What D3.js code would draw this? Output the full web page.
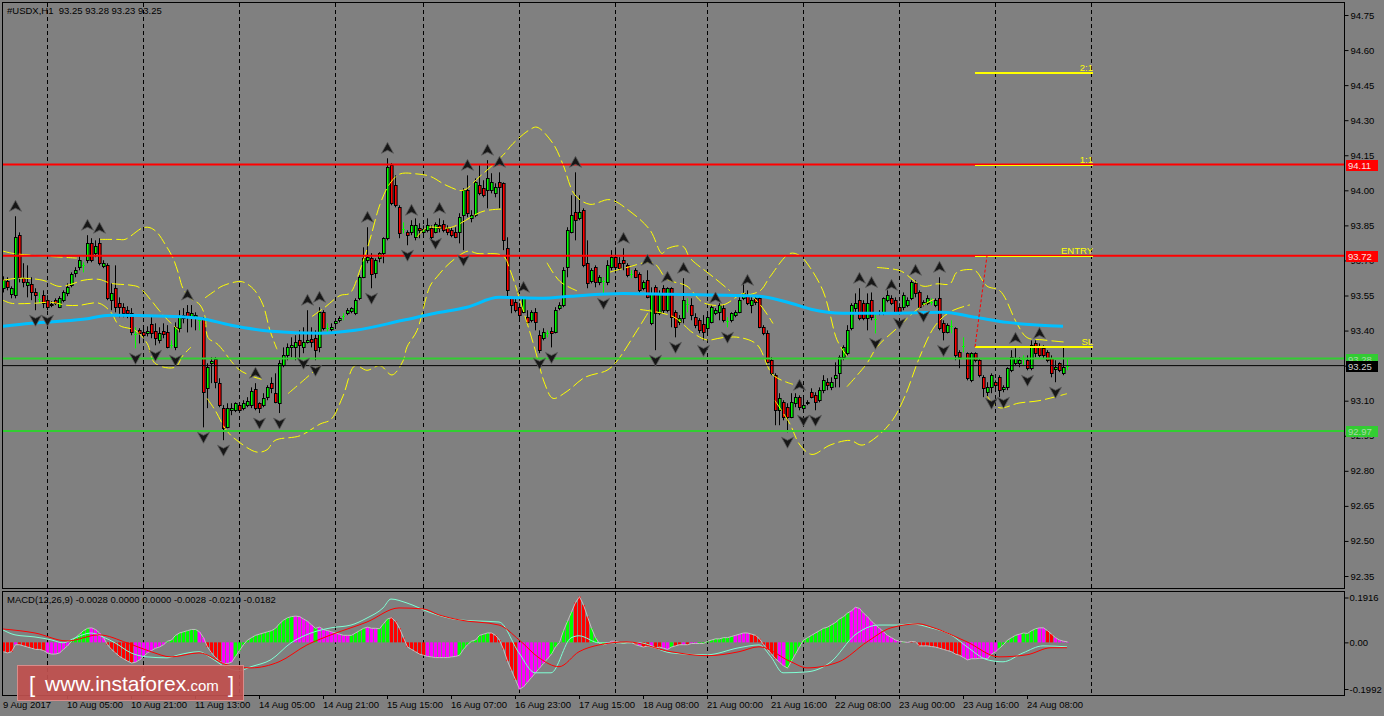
<!DOCTYPE html>
<html><head><meta charset="utf-8">
<script src="https://cdn.jsdelivr.net/npm/d3@7"></script>
<style>
body{margin:0;background:#808080;}
svg{display:block;}
text{font-family:"Liberation Sans",Arial,sans-serif;}
</style></head>
<body><svg id="c" width="1384" height="716"></svg>
<script>
// ---------------- DATA ----------------
const chartSymbol = "#USDX,H1";
const headerOHLC = ["93.25","93.28","93.23","93.25"];
const macdTitle = "MACD(12,26,9) -0.0028 0.0000 0.0000 -0.0028 -0.0210 -0.0182";

const opens = [93.581,93.611,93.555,93.551,93.808,93.624,93.594,93.598,93.563,93.534,93.551,93.530,93.513,93.530,93.500,93.530,93.559,93.594,93.645,93.671,93.679,93.701,93.773,93.731,93.773,93.675,93.679,93.530,93.581,93.517,93.500,93.487,93.474,93.384,93.401,93.392,93.388,93.427,93.397,93.358,93.397,93.392,93.339,93.328,93.410,93.453,93.478,93.457,93.453,93.446,93.448,93.153,93.260,93.277,93.175,93.068,92.986,93.059,93.059,93.081,93.068,93.081,93.081,93.149,93.089,93.081,93.115,93.175,93.132,93.089,93.252,93.294,93.328,93.328,93.358,93.328,93.350,93.362,93.367,93.328,93.478,93.412,93.405,93.431,93.444,93.461,93.474,93.483,93.474,93.538,93.628,93.701,93.709,93.645,93.709,93.731,93.795,94.107,94.021,93.927,93.833,93.820,93.820,93.799,93.838,93.820,93.829,93.838,93.820,93.850,93.855,93.838,93.829,93.820,93.820,93.893,94.000,93.880,93.893,94.021,94.009,94.000,94.000,93.987,94.034,94.030,93.752,93.538,93.521,93.500,93.478,93.457,93.444,93.478,93.380,93.367,93.390,93.397,93.392,93.496,93.509,93.671,93.820,93.906,93.880,93.915,93.688,93.611,93.671,93.606,93.611,93.606,93.671,93.714,93.688,93.701,93.679,93.641,93.658,93.641,93.581,93.615,93.431,93.585,93.474,93.581,93.487,93.581,93.478,93.435,93.453,93.513,93.509,93.457,93.444,93.427,93.410,93.435,93.474,93.478,93.496,93.440,93.444,93.466,93.478,93.538,93.551,93.509,93.538,93.538,93.414,93.388,93.273,93.209,93.059,93.093,93.072,93.029,93.089,93.115,93.068,93.089,93.136,93.123,93.102,93.145,93.179,93.157,93.196,93.217,93.286,93.303,93.410,93.496,93.530,93.517,93.453,93.530,93.448,93.474,93.474,93.530,93.538,93.530,93.500,93.500,93.509,93.538,93.602,93.563,93.513,93.517,93.523,93.509,93.538,93.431,93.392,93.420,93.410,93.307,93.332,93.303,93.187,93.303,93.273,93.200,93.136,93.157,93.179,93.200,93.149,93.157,93.230,93.260,93.260,93.277,93.273,93.239,93.345,93.328,93.324,93.307,93.281,93.234,93.260,93.217,93.25];
const highs = [93.632,93.628,93.589,93.889,93.820,93.688,93.679,93.628,93.581,93.563,93.572,93.551,93.526,93.538,93.547,93.572,93.602,93.649,93.671,93.718,93.692,93.808,93.795,93.786,93.795,93.701,93.688,93.602,93.679,93.542,93.517,93.504,93.496,93.414,93.410,93.410,93.418,93.457,93.431,93.414,93.431,93.423,93.358,93.435,93.487,93.496,93.509,93.509,93.478,93.457,93.457,93.260,93.286,93.286,93.196,93.081,93.089,93.089,93.093,93.093,93.102,93.115,93.157,93.175,93.093,93.132,93.166,93.200,93.217,93.273,93.328,93.345,93.371,93.380,93.401,93.414,93.487,93.414,93.401,93.500,93.487,93.431,93.431,93.448,93.461,93.474,93.496,93.500,93.538,93.637,93.756,93.842,93.731,93.709,93.735,93.799,94.137,94.116,94.064,93.936,93.863,93.829,93.872,93.880,93.859,93.850,93.880,93.850,93.863,93.880,93.872,93.850,93.842,93.842,93.902,94.009,94.064,93.915,94.051,94.107,94.043,94.129,94.073,94.030,94.077,94.034,93.799,93.542,93.542,93.517,93.542,93.487,93.487,93.496,93.401,93.410,93.401,93.414,93.500,93.521,93.671,93.842,93.979,94.077,93.979,93.923,93.786,93.667,93.679,93.637,93.628,93.701,93.744,93.756,93.714,93.752,93.688,93.658,93.667,93.649,93.615,93.658,93.585,93.594,93.572,93.594,93.585,93.585,93.487,93.466,93.624,93.538,93.538,93.474,93.453,93.466,93.478,93.509,93.496,93.517,93.509,93.457,93.478,93.487,93.542,93.602,93.572,93.551,93.551,93.547,93.423,93.401,93.286,93.217,93.132,93.102,93.089,93.132,93.132,93.123,93.115,93.102,93.153,93.136,93.157,93.209,93.196,93.200,93.264,93.294,93.337,93.423,93.517,93.559,93.581,93.530,93.559,93.563,93.478,93.487,93.542,93.572,93.551,93.542,93.517,93.563,93.542,93.615,93.615,93.572,93.530,93.551,93.538,93.538,93.628,93.444,93.431,93.444,93.414,93.316,93.371,93.307,93.307,93.307,93.281,93.209,93.179,93.217,93.187,93.209,93.166,93.243,93.316,93.324,93.286,93.294,93.294,93.358,93.358,93.345,93.337,93.316,93.294,93.273,93.264,93.328,93.28];
const lows = [93.563,93.572,93.538,93.538,93.606,93.585,93.542,93.530,93.487,93.517,93.496,93.487,93.500,93.509,93.496,93.521,93.547,93.585,93.628,93.658,93.649,93.688,93.692,93.714,93.679,93.667,93.530,93.487,93.478,93.457,93.457,93.453,93.380,93.324,93.345,93.367,93.375,93.367,93.337,93.345,93.367,93.324,93.324,93.316,93.392,93.431,93.392,93.414,93.401,93.401,92.986,93.068,93.175,93.153,93.072,92.931,92.982,93.038,93.051,93.047,93.059,93.072,93.068,93.059,93.047,93.072,93.102,93.132,93.089,93.047,93.243,93.273,93.286,93.273,93.273,93.303,93.345,93.328,93.273,93.307,93.401,93.392,93.392,93.423,93.435,93.444,93.466,93.474,93.466,93.530,93.624,93.688,93.581,93.624,93.692,93.688,93.786,93.936,93.927,93.795,93.816,93.765,93.808,93.786,93.795,93.799,93.820,93.786,93.816,93.820,93.820,93.808,93.799,93.795,93.773,93.744,93.885,93.863,93.885,93.979,93.970,93.923,93.987,93.970,93.923,93.744,93.542,93.474,93.478,93.453,93.474,93.423,93.435,93.401,93.303,93.358,93.371,93.328,93.388,93.487,93.500,93.628,93.816,93.786,93.872,93.671,93.581,93.602,93.585,93.594,93.559,93.594,93.658,93.645,93.658,93.658,93.628,93.624,93.624,93.563,93.572,93.538,93.423,93.316,93.466,93.474,93.478,93.414,93.371,93.423,93.431,93.478,93.444,93.410,93.388,93.358,93.392,93.431,93.466,93.444,93.435,93.414,93.435,93.457,93.474,93.530,93.509,93.474,93.509,93.410,93.380,93.260,93.209,92.995,92.995,93.016,92.965,93.025,93.072,93.059,93.059,93.081,93.110,93.059,93.093,93.132,93.145,93.145,93.157,93.157,93.273,93.294,93.401,93.478,93.444,93.444,93.401,93.444,93.388,93.466,93.466,93.521,93.509,93.474,93.474,93.487,93.500,93.530,93.542,93.496,93.504,93.509,93.509,93.500,93.401,93.358,93.388,93.388,93.273,93.239,93.307,93.187,93.179,93.264,93.200,93.115,93.115,93.132,93.145,93.115,93.136,93.145,93.222,93.252,93.243,93.252,93.230,93.230,93.286,93.286,93.281,93.264,93.200,93.179,93.222,93.209,93.23];
const closes = [93.615,93.585,93.581,93.799,93.628,93.606,93.606,93.563,93.551,93.534,93.517,93.500,93.509,93.517,93.538,93.563,93.585,93.641,93.658,93.701,93.679,93.773,93.701,93.761,93.688,93.688,93.538,93.559,93.500,93.500,93.474,93.474,93.392,93.384,93.388,93.380,93.397,93.388,93.367,93.388,93.384,93.328,93.339,93.414,93.457,93.466,93.457,93.474,93.466,93.446,93.136,93.243,93.269,93.179,93.081,92.982,93.068,93.068,93.089,93.059,93.089,93.098,93.140,93.068,93.068,93.110,93.157,93.153,93.093,93.260,93.294,93.328,93.337,93.350,93.337,93.350,93.358,93.350,93.316,93.478,93.410,93.412,93.414,93.440,93.453,93.461,93.487,93.496,93.530,93.628,93.709,93.714,93.641,93.701,93.731,93.795,94.099,93.944,93.936,93.816,93.833,93.808,93.850,93.850,93.829,93.833,93.850,93.799,93.855,93.838,93.829,93.820,93.808,93.799,93.885,94.000,93.902,93.893,94.034,93.987,93.979,94.051,94.034,94.013,94.013,93.786,93.572,93.509,93.487,93.466,93.538,93.435,93.478,93.435,93.316,93.392,93.390,93.388,93.487,93.509,93.658,93.829,93.893,93.872,93.906,93.679,93.602,93.658,93.606,93.628,93.611,93.679,93.714,93.671,93.667,93.688,93.637,93.641,93.628,93.572,93.606,93.542,93.559,93.474,93.559,93.487,93.581,93.457,93.414,93.453,93.530,93.513,93.466,93.423,93.401,93.392,93.457,93.500,93.487,93.509,93.444,93.440,93.474,93.478,93.530,93.559,93.517,93.530,93.521,93.414,93.388,93.264,93.217,93.059,93.110,93.029,93.029,93.093,93.115,93.072,93.081,93.093,93.115,93.093,93.145,93.187,93.166,93.179,93.209,93.286,93.328,93.401,93.509,93.517,93.453,93.453,93.517,93.457,93.448,93.478,93.538,93.551,93.517,93.478,93.478,93.551,93.530,93.606,93.559,93.500,93.521,93.538,93.523,93.530,93.410,93.392,93.423,93.420,93.294,93.286,93.332,93.196,93.303,93.273,93.209,93.153,93.157,93.209,93.166,93.145,93.157,93.239,93.286,93.281,93.273,93.277,93.239,93.337,93.303,93.294,93.294,93.273,93.217,93.243,93.230,93.243,93.25];

// Moving average (blue) read at sample bars
const maBars   = [0,7,20,27,41,49,57,67,79,88,100,108,116,124,135,142,155,167,189,197,202,210,222,235,243,251,265];
const maValues = [93.418,93.431,93.448,93.466,93.461,93.453,93.423,93.397,93.388,93.401,93.444,93.474,93.500,93.542,93.538,93.547,93.559,93.555,93.547,93.517,93.491,93.474,93.474,93.478,93.457,93.435,93.418];

// Yellow band strokes, read as [bar, price]
const bandSegments = [
  [[0,93.74],[2.5,93.73],[9.25,93.72],[18.5,93.71]],
  [[24.25,93.79],[28.75,93.79],[30.5,93.79],[35,93.84],[36.75,93.84],[38.5,93.82],[40.5,93.77],[42.5,93.71],[43.75,93.65],[45,93.58],[46.75,93.54],[49.25,93.51],[50.5,93.46],[51.25,93.37],[53.75,93.34],[57.5,93.26],[59.25,93.23],[63,93.20],[65,93.19]],
  [[0,93.615],[4,93.624],[10,93.615],[14,93.589],[17,93.598],[20,93.615],[24,93.619],[27,93.602],[32,93.594],[34,93.585],[37,93.530],[39,93.487],[42,93.431],[44,93.401]],
  [[0,93.530],[2,93.517],[8,93.517],[12,93.521],[16,93.508],[19,93.508],[24,93.517],[27,93.478],[29,93.423],[33,93.401],[36,93.346],[38,93.260],[43,93.243],[45,93.294],[47,93.329]],
  [[50.5,93.54],[53,93.57],[54.75,93.59],[59.25,93.61],[61,93.60],[63,93.57],[65,93.51],[66.75,93.40],[68.5,93.32]],
  [[51,93.11],[53,93.06],[56,92.97],[59.25,92.92],[63.5,92.88],[66,92.89],[68,92.93],[74.25,92.95],[79.25,93.00],[82,93.02],[85,93.12],[88,93.25],[91,93.23],[94.25,93.25],[97.25,93.21],[100,93.27],[101,93.33],[103.5,93.40],[106.75,93.59],[108.5,93.63],[111.75,93.69],[116.25,93.74],[118.5,93.73],[125,93.72],[126.75,93.66],[129.25,93.53],[133,93.32],[135.5,93.17],[137.5,93.11],[141,93.14],[145.5,93.20],[151,93.23],[153.5,93.27],[158.5,93.40],[161.75,93.49]],
  [[71.25,93.13],[76,93.20],[79.25,93.25]],
  [[77.25,93.46],[80.5,93.50],[84.25,93.55],[86.75,93.56],[89.25,93.66],[91.75,93.79],[94.25,93.94],[96.75,94.03],[99.25,94.07],[103.5,94.07],[106.75,94.06],[111,94.02],[115,94.00],[119.25,94.06],[125,94.15],[127.5,94.20],[131.75,94.26],[133.5,94.27],[137.5,94.20],[140,94.11],[143,93.98],[146.75,93.94],[151.75,93.96],[156.75,93.91],[161.75,93.83],[164.75,93.73],[166,93.75],[170,93.76],[171.75,93.71],[176,93.65],[177.5,93.63],[181.75,93.57]],
  [[185.5,93.55],[189.25,93.57],[191.75,93.63],[196.75,93.73],[199.25,93.72],[201.75,93.67],[205,93.57],[206.75,93.47],[208.5,93.36],[211,93.29]],
  [[193,93.10],[196.75,93.00],[199.25,92.91],[202.25,92.87],[206.75,92.91],[211.75,92.93],[214.75,92.91],[218.75,92.95],[222.5,93.02],[225.5,93.12],[229.25,93.29],[233,93.42],[236.75,93.48],[241.75,93.51]],
  [[218.5,93.67],[223.5,93.66],[225,93.65],[230,93.59],[233.5,93.60],[236.75,93.60],[238.5,93.65],[242.5,93.66],[243.5,93.65],[246,93.59],[249.25,93.57],[253.5,93.43],[256,93.37],[260,93.36],[266,93.35]],
  [[246,93.12],[249,93.07],[254,93.09],[259,93.10],[266,93.13]],
  [[211,93.16],[216,93.26],[218.5,93.33],[223.5,93.41],[229.25,93.50],[233.5,93.54]],
  [[136,93.69],[139.25,93.61],[143.5,93.57]],
  [[151.75,93.65],[156,93.67],[162.5,93.69],[166,93.62],[171,93.59],[175,93.52],[180,93.51],[186,93.56],[192.5,93.43]],
  [[159.25,93.49],[167.5,93.46],[172.5,93.39],[176,93.36],[180,93.37],[184.25,93.37],[188.5,93.34],[192.5,93.21],[197.5,93.17]],
  [[103.5,93.80],[106,93.84],[111.75,93.84],[120,93.91],[125,93.92]]
];

const fractalUp   = [3,21,24,46,63,76,79,91,96,102,109,116,121,124,130,143,155,161,166,170,178,186,199,214,217,222,228,234,253,259];
const fractalDown = [8,11,33,38,43,50,55,64,69,75,78,92,101,108,115,134,137,150,163,168,175,181,196,200,203,218,224,230,235,247,250,256,263];

const resistanceLevels = [94.11, 93.72];
const supportLevels = [93.28, 92.97];
const lastPrice = 93.25;

const tradeLabels = ["2:1","1:1","ENTRY","SL"];
const tradePrices = [94.50, 94.11, 93.72, 93.33];
const tradeStartBar = 243, tradeEndBar = 272.5;
const entryPathBars = [243, 246];
const entryPathPrices = [93.33, 93.72];

const priceTicks = [94.75,94.60,94.45,94.30,94.15,94.00,93.85,93.70,93.55,93.40,93.25,93.10,92.95,92.80,92.65,92.50,92.35];
const dateLabels = ["9 Aug 2017","10 Aug 05:00","10 Aug 21:00","11 Aug 13:00","14 Aug 05:00","14 Aug 21:00","15 Aug 15:00","16 Aug 07:00","16 Aug 23:00","17 Aug 15:00","18 Aug 08:00","21 Aug 00:00","21 Aug 16:00","22 Aug 08:00","23 Aug 00:00","23 Aug 16:00","24 Aug 08:00"];
const dateLabelBars = [0,16,32,48,64,80,96,112,128,144,160,176,192,208,224,240,256];
const daySeparators = [11,35,59,83,105,129,153,176,200,224,248,272];

// MACD
const macdHist = [-0.040,-0.045,-0.040,-0.010,-0.010,-0.015,-0.020,-0.025,-0.030,-0.030,-0.035,-0.045,-0.050,-0.050,-0.045,-0.030,-0.015,0.005,0.020,0.035,0.050,0.060,0.062,0.055,0.040,0.020,-0.010,-0.030,-0.045,-0.060,-0.070,-0.080,-0.088,-0.085,-0.075,-0.060,-0.045,-0.035,-0.025,-0.020,-0.010,0.005,0.010,0.030,0.040,0.045,0.050,0.055,0.055,0.045,0.020,-0.020,-0.045,-0.065,-0.080,-0.090,-0.090,-0.085,-0.060,-0.035,-0.010,0.010,0.020,0.030,0.035,0.040,0.045,0.050,0.060,0.080,0.095,0.105,0.110,0.112,0.110,0.100,0.090,0.075,0.060,0.065,0.055,0.050,0.045,0.040,0.035,0.030,0.030,0.030,0.040,0.050,0.060,0.065,0.060,0.060,0.058,0.080,0.100,0.105,0.090,0.060,0.020,-0.020,-0.030,-0.040,-0.050,-0.055,-0.060,-0.062,-0.065,-0.065,-0.065,-0.065,-0.062,-0.060,-0.055,-0.030,-0.010,0.005,0.010,0.030,0.035,0.040,0.040,0.030,0.010,-0.030,-0.080,-0.120,-0.160,-0.200,-0.190,-0.170,-0.150,-0.130,-0.110,-0.090,-0.070,-0.050,-0.020,0.000,0.050,0.090,0.130,0.170,0.195,0.160,0.110,0.060,0.020,-0.005,-0.010,-0.005,0.005,0.005,0.000,-0.005,0.000,0.000,-0.010,-0.015,-0.020,-0.015,-0.020,-0.025,-0.020,-0.025,-0.030,-0.020,-0.015,-0.010,-0.010,-0.010,-0.005,-0.005,-0.005,-0.005,0.005,0.010,0.015,0.015,0.020,0.020,0.025,0.030,0.035,0.040,0.040,0.035,0.030,0.015,-0.010,-0.030,-0.050,-0.070,-0.085,-0.100,-0.110,-0.080,-0.050,-0.020,0.010,0.020,0.030,0.040,0.050,0.060,0.065,0.075,0.085,0.100,0.110,0.125,0.135,0.150,0.145,0.125,0.110,0.090,0.075,0.060,0.045,0.030,0.020,0.010,0.005,0.002,0.000,0.004,0.002,-0.015,-0.015,-0.015,-0.018,-0.020,-0.025,-0.030,-0.035,-0.040,-0.050,-0.055,-0.065,-0.075,-0.070,-0.070,-0.068,-0.068,-0.070,-0.050,-0.040,-0.025,-0.010,0.010,0.020,0.030,0.035,0.040,0.038,0.050,0.058,0.062,0.062,0.050,0.035,0.020,0.010,0.005,0.002];
const macdHistState = "rrrmrrrrrrrmmmmmmgggggmmmmrrrrrrrmmmmmmmmggggggggmmrrrrmmmgggggggggggggggmmmmmgmmmmmmmmggggmmmgggrrrrrrrrrmmmmmmmmggggggggrrrrrrrmmmmmmmmggggggrrrrggggmmrggrrrmrrmrrmmgrrmrmmgggggggggmmmmrrrrrrrmmggggggggggggggggmmmmmmmmmmmmmgmrrrrrrrrrrrrrmmmmmmmmmgggggmggggmmrrmm".split("");
const macdLineBars = [0,3,8,12,15,18,22,25,28,32,36,41,44,49,52,56,59,62,67,72,77,82,87,91,95,97,101,107,114,119,124,129,133,137,142,144,149,159,167,176,184,189,192,195,201,207,213,219,224,227,232,237,241,246,250,255,260,266];
const macdLineValues = [0.053,0.032,0.023,0.011,-0.002,0.019,0.040,0.023,-0.002,-0.045,-0.062,-0.066,-0.053,-0.040,-0.066,-0.109,-0.121,-0.104,-0.074,-0.002,0.040,0.062,0.074,0.104,0.147,0.185,0.168,0.126,0.096,0.091,0.087,-0.045,-0.130,-0.130,0.019,0.028,-0.002,-0.002,-0.045,-0.053,-0.023,-0.011,-0.062,-0.130,-0.126,-0.083,0.032,0.074,0.074,0.079,0.062,0.032,-0.019,-0.074,-0.083,-0.045,-0.015,-0.019];
const signalBars = [0,8,16,24,31,37,42,49,56,62,69,76,82,91,99,105,109,114,124,129,134,139,144,149,156,167,176,184,189,197,201,209,216,222,229,232,241,249,256,262,266];
const signalValues = [0.057,0.040,0.006,0.032,-0.002,-0.040,-0.062,-0.045,-0.096,-0.109,-0.083,-0.011,0.032,0.087,0.147,0.143,0.117,0.096,0.074,0.011,-0.066,-0.104,-0.040,-0.011,0.002,-0.040,-0.057,-0.040,-0.019,-0.083,-0.109,-0.083,0.002,0.062,0.079,0.066,0.002,-0.062,-0.053,-0.023,-0.023];
const macdTicks = [0.1916, 0, -0.1992];
const macdTickLabels = ["0.1916","0.00","-0.1992"];

// ---------------- DRAW ----------------
const W = 1384, H = 716, FS = 9.5;
const left = 3, right = 1344, mainTop = 3, mainBottom = 588, macdTop = 591, macdBottom = 695;
const svg = d3.select("#c");
svg.append("rect").attr("width", W).attr("height", H).attr("fill", "#808080");

const x = d3.scaleLinear().domain([0, 266]).range([3, 1067]);
const y = d3.scaleLinear().domain([92.35, 94.75]).range([576, 15]);
const ym = d3.scaleLinear().domain([-0.1992, 0.1916]).range([689, 597.5]);

const defs = svg.append("defs");
defs.append("clipPath").attr("id", "clipMain").append("rect")
  .attr("x", left).attr("y", mainTop).attr("width", right - left).attr("height", mainBottom - mainTop);
defs.append("clipPath").attr("id", "clipMacd").append("rect")
  .attr("x", left).attr("y", macdTop).attr("width", right - left).attr("height", macdBottom - macdTop);

const gMain = svg.append("g").attr("clip-path", "url(#clipMain)");
const gMacd = svg.append("g").attr("clip-path", "url(#clipMacd)");

// grid
daySeparators.forEach(b => {
  const xx = Math.round(x(b)) + 0.5;
  gMain.append("line").attr("x1", xx).attr("x2", xx).attr("y1", mainTop).attr("y2", mainBottom)
    .attr("stroke", "#000").attr("stroke-dasharray", "4,3");
  gMacd.append("line").attr("x1", xx).attr("x2", xx).attr("y1", macdTop).attr("y2", macdBottom)
    .attr("stroke", "#000").attr("stroke-dasharray", "4,3");
});

// candles
const bars = d3.range(opens.length);
const gC = gMain.append("g");
bars.forEach(i => {
  const cx = Math.round(x(i));
  const o = opens[i], c = closes[i], h = highs[i], l = lows[i];
  if (Math.abs(o - c) < 1e-9) {
    gC.append("line").attr("x1", cx + 0.5).attr("x2", cx + 0.5).attr("y1", y(h)).attr("y2", y(l)).attr("stroke", "#00FF00");
    const yy = Math.round(y(o)) + 0.5;
    gC.append("line").attr("x1", cx - 1).attr("x2", cx + 2).attr("y1", yy).attr("y2", yy).attr("stroke", "#00FF00");
  } else {
    gC.append("line").attr("x1", cx + 0.5).attr("x2", cx + 0.5).attr("y1", y(h)).attr("y2", y(l)).attr("stroke", "#000");
    const top = Math.round(y(Math.max(o, c))), bot = Math.round(y(Math.min(o, c)));
    gC.append("rect").attr("x", cx - 0.5).attr("y", top + 0.5).attr("width", 2.6).attr("height", Math.max(1, bot - top))
      .attr("fill", c > o ? "#00FF00" : "#FF0000").attr("stroke", "#000").attr("stroke-width", 1);
  }
});

// yellow bands
const bandLine = d3.line().x(d => x(d[0])).y(d => y(d[1])).curve(d3.curveCatmullRom);
bandSegments.forEach(seg => {
  gMain.append("path").attr("d", bandLine(seg)).attr("fill", "none")
    .attr("stroke", "#FFFF00").attr("stroke-width", 1).attr("stroke-dasharray", "12,4");
});

// blue MA
const maLine = d3.line().x((d, k) => x(maBars[k])).y(d => y(d)).curve(d3.curveMonotoneX);
gMain.append("path").attr("d", maLine(maValues)).attr("fill", "none")
  .attr("stroke", "#00BFFF").attr("stroke-width", 3);

// horizontal levels
function hline(p, color, w) {
  gMain.append("line").attr("x1", left).attr("x2", right).attr("y1", y(p)).attr("y2", y(p))
    .attr("stroke", color).attr("stroke-width", w);
}
resistanceLevels.forEach(p => hline(p, "#FF0000", 2));
supportLevels.forEach(p => hline(p, "#32CD32", 2));
hline(lastPrice, "#000", 1);

// fractals
const upPath = "M0,-6 L6,5 L0,2 L-6,5 Z";
const dnPath = "M0,6 L6,-5 L0,-2 L-6,-5 Z";
fractalUp.forEach(i => {
  gMain.append("path").attr("d", upPath).attr("transform", `translate(${x(i) + 0.5},${y(highs[i]) - 10})`)
    .attr("fill", "#161616").attr("stroke", "#5a5a5a").attr("stroke-width", 0.8);
});
fractalDown.forEach(i => {
  gMain.append("path").attr("d", dnPath).attr("transform", `translate(${x(i) + 0.5},${y(lows[i]) + 10})`)
    .attr("fill", "#161616").attr("stroke", "#5a5a5a").attr("stroke-width", 0.8);
});

// trade levels
tradePrices.forEach((p, k) => {
  const onLevel = resistanceLevels.includes(p);
  const yy = Math.round(y(p)) + 0.5;
  gMain.append("line").attr("x1", x(tradeStartBar)).attr("x2", x(tradeEndBar))
    .attr("y1", onLevel ? yy : yy - 0.5).attr("y2", onLevel ? yy : yy - 0.5)
    .attr("stroke", "#FFFF00").attr("stroke-width", onLevel ? 1 : 2);
  gMain.append("text").attr("x", x(tradeEndBar)).attr("y", yy - 3).attr("text-anchor", "end")
    .attr("font-size", FS).attr("fill", "#FFFF00").text(tradeLabels[k]);
});
gMain.append("line").attr("x1", x(entryPathBars[0])).attr("y1", y(entryPathPrices[0]))
  .attr("x2", x(entryPathBars[1])).attr("y2", y(entryPathPrices[1]))
  .attr("stroke", "#FF0000").attr("stroke-dasharray", "3,2");

// MACD histogram
const stateColor = {g: "#00FF00", m: "#FF00FF", r: "#FF0000"};
macdHist.forEach((v, i) => {
  const cx = Math.round(x(i));
  const y0 = ym(0), y1 = ym(v);
  gMacd.append("rect").attr("x", cx - 1).attr("width", 3)
    .attr("y", Math.min(y0, y1)).attr("height", Math.max(0.5, Math.abs(y1 - y0)))
    .attr("fill", stateColor[macdHistState[i]] || "#FF00FF");
});
gMacd.append("path").attr("d", d3.line().x((d, i) => x(i) + 0.5).y(d => ym(d))(macdHist))
  .attr("fill", "none").attr("stroke", "#C0C0C0").attr("stroke-width", 1);
gMacd.append("path").attr("d", d3.line().x((d, k) => x(macdLineBars[k])).y(d => ym(d)).curve(d3.curveMonotoneX)(macdLineValues))
  .attr("fill", "none").attr("stroke", "#7FFFD4").attr("stroke-width", 1);
gMacd.append("path").attr("d", d3.line().x((d, k) => x(signalBars[k])).y(d => ym(d)).curve(d3.curveMonotoneX)(signalValues))
  .attr("fill", "none").attr("stroke", "#FF0000").attr("stroke-width", 1);

// panel borders
function box(x0, y0, x1, y1) {
  svg.append("rect").attr("x", x0 + 0.5).attr("y", y0 + 0.5).attr("width", x1 - x0).attr("height", y1 - y0)
    .attr("fill", "none").attr("stroke", "#000").attr("stroke-width", 1);
}
box(2, 2, right, mainBottom);
box(2, macdTop, right, macdBottom);

// price axis
const ax = svg.append("g").attr("transform", `translate(${right + 0.5},0)`)
  .call(d3.axisRight(y).tickValues(priceTicks).tickFormat(d3.format(".2f")).tickSize(4).tickPadding(2));
ax.select(".domain").remove();
ax.selectAll("line").attr("stroke", "#000");
ax.selectAll("text").attr("font-size", FS).attr("fill", "#000").attr("font-family", "Liberation Sans, Arial, sans-serif");

// MACD axis
const axm = svg.append("g").attr("transform", `translate(${right + 0.5},0)`)
  .call(d3.axisRight(ym).tickValues(macdTicks).tickFormat((d, k) => macdTickLabels[k]).tickSize(4).tickPadding(1));
axm.select(".domain").remove();
axm.selectAll("line").attr("stroke", "#000");
axm.selectAll("text").attr("font-size", FS).attr("fill", "#000").attr("font-family", "Liberation Sans, Arial, sans-serif");

// price tags (drawn over the axis labels, as in the terminal)
function tag(p, bg, fg) {
  const yy = Math.round(y(p));
  svg.append("rect").attr("x", right + 2).attr("y", yy - 5).attr("width", 32).attr("height", 11).attr("fill", bg);
  svg.append("text").attr("x", right + 4).attr("y", yy + 4).attr("font-size", FS).attr("fill", fg).text(p.toFixed(2));
}
resistanceLevels.forEach(p => tag(p, "#FF0000", "#F8E0E0"));
supportLevels.forEach(p => tag(p, "#32CD32", "#A8D8A8"));
tag(lastPrice, "#000000", "#D0D0D0");

// titles
svg.append("text").attr("x", 7).attr("y", 14).attr("font-size", FS).attr("fill", "#000")
  .text(chartSymbol + "\u00A0\u00A0" + headerOHLC.join("\u00A0"));
svg.append("text").attr("x", 7).attr("y", 603).attr("font-size", FS).attr("fill", "#000").text(macdTitle);

// date labels
dateLabels.forEach((t, k) => {
  const xx = k === 0 ? 3 : Math.round(x(dateLabelBars[k]));
  svg.append("text").attr("x", xx).attr("y", 708).attr("font-size", FS).attr("fill", "#000").text(t);
  if (k > 0) svg.append("line").attr("x1", xx + 0.5).attr("x2", xx + 0.5).attr("y1", macdBottom + 1).attr("y2", macdBottom + 4).attr("stroke", "#000");
});

// logo
const logo = svg.append("g");
logo.append("rect").attr("x", 17.5).attr("y", 665.5).attr("width", 226).attr("height", 35)
  .attr("fill", "#C0504E").attr("fill-opacity", 0.92).attr("stroke", "#D98C8A").attr("stroke-width", 1);
logo.append("text").attr("x", 29).attr("y", 692).attr("font-size", 22).attr("fill", "#FFFFFF").attr("font-family", "Open Sans, Liberation Sans, sans-serif").text("[");
logo.append("text").attr("x", 45).attr("y", 691).attr("font-size", 21).attr("fill", "#FFFFFF").attr("font-family", "Open Sans, Liberation Sans, sans-serif")
  .text("www.instaforex").append("tspan").attr("font-size", 15).text(".com");
logo.append("text").attr("x", 228).attr("y", 692).attr("font-size", 22).attr("fill", "#FFFFFF").attr("font-family", "Open Sans, Liberation Sans, sans-serif").text("]");
</script>
</body></html>
